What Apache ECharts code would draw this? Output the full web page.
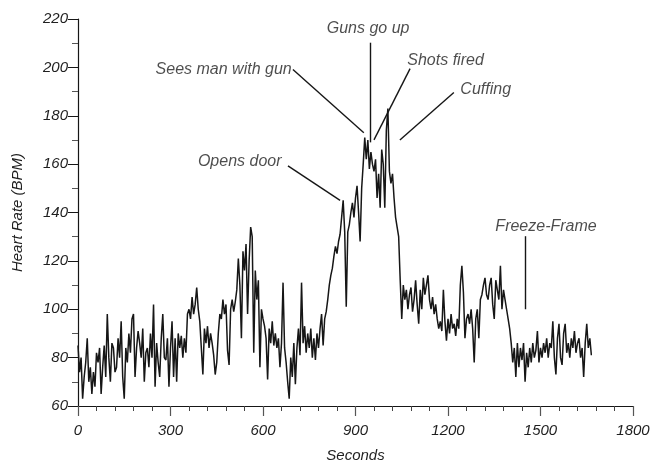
<!DOCTYPE html>
<html>
<head>
<meta charset="utf-8">
<title>Heart Rate (BPM)</title>
<script src="https://cdn.jsdelivr.net/npm/echarts@6/dist/echarts.min.js"></script>
<style>
  html, body { margin: 0; padding: 0; background: #fff; }
  #chart { width: 655px; height: 468px; }
</style>
</head>
<body>
<div id="chart"></div>
<script>
// Heart-rate recording, one reading every 5 seconds starting at 0 s
const sampleStep = 5;
const bpm = [
  85, 74, 80, 63, 72, 78, 88, 70, 76, 65, 74, 68,
  82, 78, 84, 65, 76, 85, 72, 98, 80, 70, 86, 84,
  74, 76, 88, 80, 95, 72, 63, 84, 78, 90, 82, 96,
  98, 72, 84, 91, 86, 80, 92, 70, 82, 84, 76, 90,
  80, 102, 68, 86, 78, 72, 88, 98, 80, 79, 88, 68,
  84, 95, 72, 88, 70, 90, 84, 89, 80, 88, 82, 98,
  100, 96, 105, 98, 102, 109, 100, 95, 84, 73, 92, 86,
  93, 84, 90, 86, 81, 73, 78, 90, 98, 96, 104, 98,
  102, 83, 77, 100, 104, 99, 103, 108, 121, 110, 88, 124,
  116, 127, 98, 120, 134, 130, 82, 116, 104, 112, 76, 100,
  96, 93, 88, 71, 92, 86, 95, 85, 90, 84, 88, 76,
  86, 111, 84, 78, 70, 63, 80, 72, 86, 69, 84, 92,
  81, 111, 86, 93, 82, 90, 84, 92, 80, 88, 79, 90,
  84, 92, 98, 85, 96, 99, 104, 110, 114, 117, 122, 126,
  123, 128, 131, 138, 145, 132, 101, 132, 135, 140, 144, 138,
  146, 151, 140, 128, 150, 160, 171, 162, 170, 158, 165, 160,
  157, 162, 146, 156, 142, 166, 160, 142, 174, 183, 157, 152,
  156, 146, 138, 134, 130, 112, 96, 110, 104, 108, 100, 106,
  109, 99, 104, 112, 102, 94, 108, 100, 113, 106, 110, 114,
  104, 100, 105, 98, 102, 96, 92, 95, 91, 108, 95, 87,
  96, 90, 98, 92, 94, 89, 96, 92, 110, 118, 107, 88,
  96, 98, 94, 100, 92, 78, 96, 100, 88, 104, 106, 110,
  113, 106, 104, 110, 113, 102, 96, 112, 108, 104, 118, 100,
  108, 104, 100, 96, 92, 86, 78, 84, 72, 86, 76, 84,
  79, 86, 70, 82, 76, 84, 78, 86, 80, 83, 91, 78,
  84, 80, 86, 82, 88, 80, 86, 84, 95, 80, 73, 88,
  94, 80, 77, 90, 94, 82, 86, 80, 88, 84, 91, 82,
  86, 88, 80, 84, 72, 86, 94, 84, 88, 81
];

// Tick values for both axes
const xTicks = [0, 300, 600, 900, 1200, 1500, 1800];
const yTicks = [60, 80, 100, 120, 140, 160, 180, 200, 220];

// Events along the recording: name, time (s) and heart rate the pointer reaches
const eventNames = ['Opens door', 'Sees man with gun', 'Guns go up', 'Shots fired', 'Cuffing', 'Freeze-Frame'];
const eventTime  = [850, 927, 949, 960, 1044, 1450];
const eventBpm   = [145, 173, 169, 170, 170, 100];

// Where each event's caption sits and where its pointer starts (data units)
const captionAt    = [[660, 161], [693, 199], [941, 216], [1068, 203], [1240, 191], [1518, 134.3]];
const captionSide  = ['left', 'left', 'inside', 'right', 'right', 'inside'];
const pointerStart = [[681, 159.3], [697, 199.1], [949, 210.2], [1077, 199.5], [1219, 189.6], [1450, 130.2]];

const seriesData = bpm.map((v, i) => [i * sampleStep, v]);

const textColor = '#1f1f1f';
const inkColor = '#161616';
const font = 'Liberation Sans, Arial, sans-serif';

const chart = echarts.init(document.getElementById('chart'), null, { renderer: 'canvas' });

chart.setOption({
  animation: false,
  backgroundColor: '#ffffff',
  grid: { left: 78, right: 22, top: 19, bottom: 59, containLabel: false },
  xAxis: {
    type: 'value',
    min: xTicks[0],
    max: xTicks[xTicks.length - 1],
    interval: xTicks[1] - xTicks[0],
    name: 'Seconds',
    nameLocation: 'middle',
    nameGap: 42,
    nameTextStyle: { fontFamily: font, fontStyle: 'italic', fontSize: 15, color: textColor },
    axisLine: { show: true, onZero: false, lineStyle: { color: inkColor, width: 1.2 } },
    axisTick: { show: true, length: 10, lineStyle: { color: '#555', width: 1.2 } },
    minorTick: { show: true, splitNumber: 5, length: 5, lineStyle: { color: '#444', width: 1 } },
    axisLabel: {
      margin: 17, fontFamily: font, fontStyle: 'italic', fontSize: 15, color: textColor,
      formatter: v => String(v)
    },
    splitLine: { show: false }
  },
  yAxis: {
    type: 'value',
    min: yTicks[0],
    max: yTicks[yTicks.length - 1],
    interval: yTicks[1] - yTicks[0],
    name: 'Heart Rate (BPM)',
    nameLocation: 'middle',
    nameGap: 53,
    nameTextStyle: { fontFamily: font, fontStyle: 'italic', fontSize: 15, color: textColor },
    axisLine: { show: true, onZero: false, lineStyle: { color: inkColor, width: 1.2 } },
    axisTick: { show: true, length: 10, lineStyle: { color: inkColor, width: 1 } },
    minorTick: { show: true, splitNumber: 2, length: 6, lineStyle: { color: '#555', width: 1 } },
    axisLabel: {
      margin: 10, fontFamily: font, fontStyle: 'italic', fontSize: 15, color: textColor,
      formatter: v => String(v)
    },
    splitLine: { show: false }
  },
  series: [
    {
      name: 'Heart Rate',
      type: 'line',
      data: seriesData,
      showSymbol: false,
      symbol: 'none',
      sampling: null,
      lineStyle: { color: inkColor, width: 1.5 },
      silent: true,
      markLine: {
        silent: true,
        symbol: ['none', 'none'],
        label: { show: false },
        lineStyle: { color: inkColor, width: 1.4, type: 'solid' },
        data: eventNames.map((name, i) => [
          { coord: pointerStart[i] },
          { coord: [eventTime[i], eventBpm[i]] }
        ])
      }
    },
    {
      name: 'Events',
      type: 'scatter',
      symbolSize: 0,
      silent: true,
      data: eventNames.map((name, i) => ({
        name: name,
        value: captionAt[i],
        label: {
          show: true,
          position: captionSide[i],
          distance: 0,
          formatter: '{b}',
          fontFamily: font,
          fontStyle: 'italic',
          fontSize: 16,
          color: textColor
        }
      }))
    }
  ]
});
</script>
</body>
</html>
